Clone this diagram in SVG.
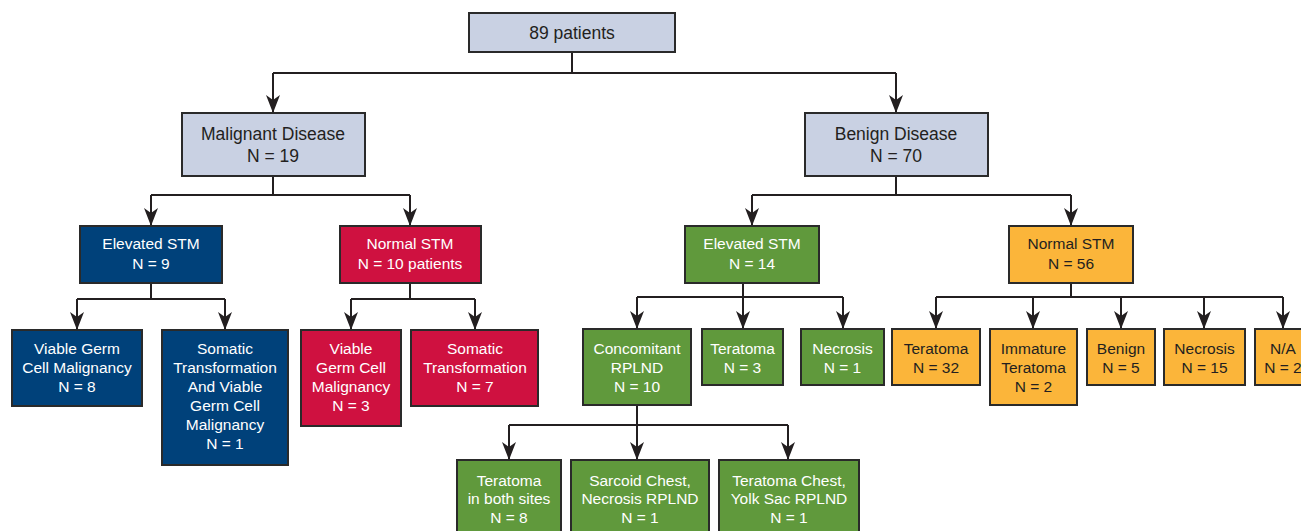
<svg xmlns="http://www.w3.org/2000/svg" width="1301" height="531" viewBox="0 0 1301 531">
<defs>
<marker id="arr" viewBox="0 0 18 14" refX="18" refY="7" markerWidth="18" markerHeight="14" markerUnits="userSpaceOnUse" orient="auto">
<path d="M0,0 L18,7 L0,14 L5,7 z" fill="#231f20"/>
</marker>
<style>
rect{stroke:#2a2a2a;stroke-width:2}
.gray{fill:#c9d1e3}
.navy{fill:#00417a}
.red{fill:#cf1140}
.green{fill:#60993c}
.orange{fill:#fbb53a}
text{font-family:"Liberation Sans",Arial,sans-serif;text-anchor:middle}
.big{font-size:17.5px;fill:#231f20}
.sm{font-size:15.5px}
.dk{fill:#231f20}
.wt{fill:#ffffff}
.ln{fill:none;stroke:#231f20;stroke-width:2}
.ar{fill:none;stroke:#231f20;stroke-width:2;marker-end:url(#arr)}
</style>
</defs>
<rect width="1301" height="531" fill="#ffffff" style="stroke:none"/>
<g id="connectors">
<path class="ln" d="M572,52 V73 M273,73 H896"/>
<path class="ar" d="M273,73 V113"/>
<path class="ar" d="M896,73 V113"/>
<path class="ln" d="M273,176 V195 M151,195 H410"/>
<path class="ar" d="M151,195 V226"/>
<path class="ar" d="M410,195 V226"/>
<path class="ln" d="M896,176 V195 M752,195 H1071"/>
<path class="ar" d="M752,195 V226"/>
<path class="ar" d="M1071,195 V226"/>
<path class="ln" d="M151,283 V299 M77,299 H225"/>
<path class="ar" d="M77,299 V330"/>
<path class="ar" d="M225,299 V330"/>
<path class="ln" d="M410,283 V299 M351,299 H475"/>
<path class="ar" d="M351,299 V330"/>
<path class="ar" d="M475,299 V330"/>
<path class="ln" d="M743,283 V297 M637,297 H843"/>
<path class="ar" d="M637,297 V329"/>
<path class="ar" d="M743,297 V329"/>
<path class="ar" d="M843,297 V329"/>
<path class="ln" d="M1071,283 V297 M936,297 H1283"/>
<path class="ar" d="M936,297 V329"/>
<path class="ar" d="M1033,297 V329"/>
<path class="ar" d="M1121,297 V329"/>
<path class="ar" d="M1204,297 V329"/>
<path class="ar" d="M1283,297 V329"/>
<path class="ln" d="M637,405 V425 M509,425 H788"/>
<path class="ar" d="M509,425 V460"/>
<path class="ar" d="M637,425 V460"/>
<path class="ar" d="M788,425 V460"/>
</g>
<g id="n-root"><rect class="gray" x="469" y="13" width="206" height="39"/><text class="big" x="572" y="39">89 patients</text></g>
<g id="n-malignant"><rect class="gray" x="182" y="113" width="183" height="63"/><text class="big" x="273" y="140">Malignant Disease</text><text class="big" x="273" y="162">N = 19</text></g>
<g id="n-benign"><rect class="gray" x="805" y="113" width="183" height="63"/><text class="big" x="896" y="140">Benign Disease</text><text class="big" x="896" y="162">N = 70</text></g>
<g id="n-m-elev"><rect class="navy" x="80" y="226" width="142" height="57"/><text class="sm wt" x="151" y="248.5">Elevated STM</text><text class="sm wt" x="151" y="268.5">N = 9</text></g>
<g id="n-m-norm"><rect class="red" x="340" y="226" width="141" height="57"/><text class="sm wt" x="410" y="248.5">Normal STM</text><text class="sm wt" x="410" y="268.5">N = 10 patients</text></g>
<g id="n-b-elev"><rect class="green" x="685" y="226" width="134" height="57"/><text class="sm wt" x="752" y="248.5">Elevated STM</text><text class="sm wt" x="752" y="268.5">N = 14</text></g>
<g id="n-b-norm"><rect class="orange" x="1009" y="226" width="124" height="57"/><text class="sm dk" x="1071" y="248.5">Normal STM</text><text class="sm dk" x="1071" y="268.5">N = 56</text></g>
<g id="n-vgcm8"><rect class="navy" x="12" y="330" width="130" height="76"/><text class="sm wt" x="77" y="353.5">Viable Germ</text><text class="sm wt" x="77" y="372.5">Cell Malignancy</text><text class="sm wt" x="77" y="391.5">N = 8</text></g>
<g id="n-stvg1"><rect class="navy" x="162" y="330" width="126" height="135"/><text class="sm wt" x="225" y="353.5">Somatic</text><text class="sm wt" x="225" y="372.5">Transformation</text><text class="sm wt" x="225" y="391.5">And Viable</text><text class="sm wt" x="225" y="410.5">Germ Cell</text><text class="sm wt" x="225" y="429.5">Malignancy</text><text class="sm wt" x="225" y="448.5">N = 1</text></g>
<g id="n-vgcm3"><rect class="red" x="301" y="330" width="100" height="96"/><text class="sm wt" x="351" y="353.5">Viable</text><text class="sm wt" x="351" y="372.5">Germ Cell</text><text class="sm wt" x="351" y="391.5">Malignancy</text><text class="sm wt" x="351" y="410.5">N = 3</text></g>
<g id="n-st7"><rect class="red" x="411" y="330" width="127" height="76"/><text class="sm wt" x="475" y="353.5">Somatic</text><text class="sm wt" x="475" y="372.5">Transformation</text><text class="sm wt" x="475" y="391.5">N = 7</text></g>
<g id="n-conc"><rect class="green" x="583" y="329" width="108" height="76"/><text class="sm wt" x="637" y="353.5">Concomitant</text><text class="sm wt" x="637" y="372.5">RPLND</text><text class="sm wt" x="637" y="391.5">N = 10</text></g>
<g id="n-g-ter"><rect class="green" x="702" y="329" width="81" height="56"/><text class="sm wt" x="742.5" y="353.5">Teratoma</text><text class="sm wt" x="742.5" y="372.5">N = 3</text></g>
<g id="n-g-nec"><rect class="green" x="801" y="329" width="83" height="56"/><text class="sm wt" x="842.5" y="353.5">Necrosis</text><text class="sm wt" x="842.5" y="372.5">N = 1</text></g>
<g id="n-o-ter"><rect class="orange" x="892" y="329" width="88" height="56"/><text class="sm dk" x="936" y="353.5">Teratoma</text><text class="sm dk" x="936" y="372.5">N = 32</text></g>
<g id="n-o-imm"><rect class="orange" x="990" y="329" width="87" height="76"/><text class="sm dk" x="1033.5" y="353.5">Immature</text><text class="sm dk" x="1033.5" y="372.5">Teratoma</text><text class="sm dk" x="1033.5" y="391.5">N = 2</text></g>
<g id="n-o-ben"><rect class="orange" x="1087" y="329" width="68" height="56"/><text class="sm dk" x="1121" y="353.5">Benign</text><text class="sm dk" x="1121" y="372.5">N = 5</text></g>
<g id="n-o-nec"><rect class="orange" x="1164" y="329" width="81" height="56"/><text class="sm dk" x="1204.5" y="353.5">Necrosis</text><text class="sm dk" x="1204.5" y="372.5">N = 15</text></g>
<g id="n-o-na"><rect class="orange" x="1255" y="329" width="60" height="56"/><text class="sm dk" x="1283" y="353.5">N/A</text><text class="sm dk" x="1283" y="372.5">N = 2</text></g>
<g id="n-c-ter"><rect class="green" x="457" y="460" width="104" height="80"/><text class="sm wt" x="509" y="485.5">Teratoma</text><text class="sm wt" x="509" y="504">in both sites</text><text class="sm wt" x="509" y="522.5">N = 8</text></g>
<g id="n-c-sar"><rect class="green" x="571" y="460" width="138" height="80"/><text class="sm wt" x="640" y="485.5">Sarcoid Chest,</text><text class="sm wt" x="640" y="504">Necrosis RPLND</text><text class="sm wt" x="640" y="522.5">N = 1</text></g>
<g id="n-c-yolk"><rect class="green" x="719" y="460" width="140" height="80"/><text class="sm wt" x="789" y="485.5">Teratoma Chest,</text><text class="sm wt" x="789" y="504">Yolk Sac RPLND</text><text class="sm wt" x="789" y="522.5">N = 1</text></g>
</svg>
